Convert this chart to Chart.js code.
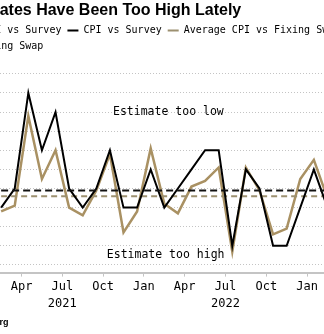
<!DOCTYPE html>
<html>
<head>
<meta charset="utf-8">
<script src="https://cdn.jsdelivr.net/npm/chart.js@4"></script>
<style>
    html, body { margin: 0; padding: 0; background: #fff; overflow: hidden; width: 324px; height: 334px; }
    /* the reference is a crop of a wider chart, so the canvas sticks out on both sides */
    #wrap { position: absolute; left: -87px; top: 0; width: 460px; height: 334px; }
</style>
</head>
<body>
<div id="wrap"><canvas id="chart"></canvas></div>
<script>
var months = ['Mar 2021', 'Apr 2021', 'May 2021', 'Jun 2021', 'Jul 2021', 'Aug 2021', 'Sep 2021', 'Oct 2021',
    'Nov 2021', 'Dec 2021', 'Jan 2022', 'Feb 2022', 'Mar 2022', 'Apr 2022', 'May 2022', 'Jun 2022',
    'Jul 2022', 'Aug 2022', 'Sep 2022', 'Oct 2022', 'Nov 2022', 'Dec 2022', 'Jan 2023', 'Feb 2023', 'Mar 2023'];

var cpiVsSurvey = [-0.1, 0, 0.5, 0.2, 0.4, 0, -0.1, 0, 0.2, -0.1, -0.1, 0.1, -0.1,
    0, 0.1, 0.2, 0.2, -0.3, 0.1, 0, -0.3, -0.3, -0.1, 0.1, -0.1];
var cpiVsFixingSwap = [-0.12, -0.09, 0.38, 0.05, 0.2, -0.1, -0.14, -0.01, 0.18, -0.23, -0.12, 0.21, -0.08,
    -0.13, 0.01, 0.04, 0.11, -0.33, 0.11, -0.01, -0.24, -0.21, 0.05, 0.15, -0.05];
var avgCpiVsSurvey = -0.01;
var avgCpiVsFixingSwap = -0.04;

var tickMonths = ['Apr 2021', 'Jul 2021', 'Oct 2021', 'Jan 2022', 'Apr 2022', 'Jul 2022', 'Oct 2022', 'Jan 2023'];

var notes = ['Estimate too low', 'Estimate too high'];
var noteIndex = [12.3, 12.1];
var noteValues = [0.4, -0.35];

var TAN = '#a99163';

function points(values) {
    return values.map(function (v, i) { return { x: i, y: v }; });
}

function flat(value) {
    return months.map(function (m, i) { return { x: i, y: value }; });
}

// text labels inside the plot
var notesPlugin = {
    id: 'notes',
    afterDatasetsDraw: function (chart) {
        var ctx = chart.ctx;
        var sx = chart.scales.x, sy = chart.scales.y;
        ctx.save();
        ctx.font = '11.5px "DejaVu Sans Mono"';
        ctx.fillStyle = '#000';
        ctx.textAlign = 'center';
        ctx.textBaseline = 'middle';
        for (var i = 0; i < notes.length; i++) {
            ctx.fillText(notes[i], sx.getPixelForValue(noteIndex[i]), sy.getPixelForValue(noteValues[i]));
        }
        ctx.restore();
    }
};

new Chart(document.getElementById('chart').getContext('2d'), {
    type: 'line',
    data: {
        datasets: [{
            label: 'Average CPI vs Survey',
            data: flat(avgCpiVsSurvey),
            borderColor: '#111',
            borderWidth: 2,
            borderDash: [7, 4]
        }, {
            label: 'CPI vs Survey',
            data: points(cpiVsSurvey),
            borderColor: '#000',
            borderWidth: 2
        }, {
            label: 'Average CPI vs Fixing Swap',
            data: flat(avgCpiVsFixingSwap),
            borderColor: '#9c9070',
            borderWidth: 2,
            borderDash: [6, 4]
        }, {
            label: 'CPI vs Fixing Swap',
            data: points(cpiVsFixingSwap),
            borderColor: TAN,
            borderWidth: 2.5
        }]
    },
    options: {
        responsive: true,
        maintainAspectRatio: false,
        animation: false,
        elements: {
            point: { radius: 0 },
            line: { tension: 0, fill: false, borderJoinStyle: 'miter' }
        },
        plugins: {
            title: {
                display: true,
                text: 'CPI Estimates Have Been Too High Lately',
                align: 'start',
                fullSize: false,
                color: '#000',
                font: { family: 'Liberation Sans', size: 16, weight: 'bold', lineHeight: 1.1 },
                padding: { top: 2, bottom: 0 }
            },
            subtitle: {
                display: true,
                position: 'bottom',
                text: 'Source: Bloomberg',
                align: 'start',
                fullSize: false,
                color: '#000',
                font: { family: 'Liberation Sans', size: 9, weight: 'bold' },
                padding: { top: 3, bottom: 6 }
            },
            legend: {
                position: 'top',
                align: 'start',
                labels: {
                    usePointStyle: true,
                    pointStyle: 'line',
                    pointStyleWidth: 11,
                    boxHeight: 10,
                    padding: 6,
                    color: '#000',
                    font: { family: 'DejaVu Sans Mono', size: 10 }
                }
            },
            tooltip: { enabled: false }
        },
        scales: {
            x: {
                type: 'linear',
                min: -5.6,
                max: 27.35,
                afterBuildTicks: function (scale) {
                    scale.ticks = tickMonths.map(function (m) {
                        return { value: months.indexOf(m) + 0.5 };
                    });
                },
                ticks: {
                    autoSkip: false,
                    maxRotation: 0,
                    padding: 2,
                    color: '#000',
                    font: { family: 'DejaVu Sans Mono', size: 12, lineHeight: 1.4 },
                    callback: function (value) {
                        var parts = months[Math.round(value - 0.5)].split(' ');
                        return parts[0] === 'Jul' ? [parts[0], parts[1]] : parts[0];
                    }
                },
                grid: { drawOnChartArea: false, drawTicks: true, tickLength: 4, tickColor: '#c4c4c4', tickWidth: 1 },
                border: { display: true, color: '#c4c4c4', width: 2 }
            },
            y: {
                position: 'left',
                min: -0.44,
                max: 0.664,
                afterFit: function (scale) { scale.width = 12; },
                ticks: { display: false, stepSize: 0.1, includeBounds: false },
                grid: { color: '#c4c4c4', lineWidth: 1, drawTicks: false },
                border: { display: false, dash: [1, 2] }
            }
        }
    },
    plugins: [notesPlugin]
});
</script>
</body>
</html>
